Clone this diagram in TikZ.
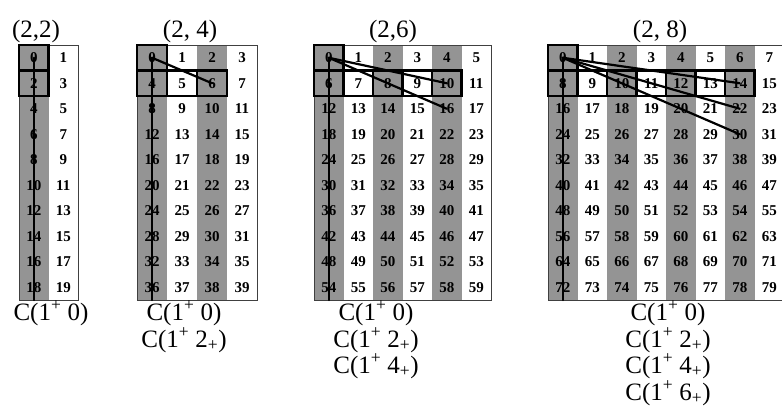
\documentclass[tikz,border=0pt]{standalone}
\usepackage{fontspec}
\setmainfont{Liberation Serif}
\definecolor{shadegray}{gray}{0.58}
\tikzset{
  cell/.style={minimum width=#1, minimum height=25.5pt, inner sep=0pt, outer sep=0pt,
    font=\fontsize{15}{15}\selectfont\bfseries, anchor=center},
  boxline/.style={line width=2.4pt},
  link/.style={line width=2.2pt, line cap=round},
  frame/.style={line width=0.7pt, draw=black!75},
  title/.style={font=\fontsize{25}{25}\selectfont, anchor=base, inner sep=0pt},
  lbl/.style={font=\fontsize{25}{25}\selectfont, anchor=base, inner sep=0pt},
}
\newcommand{\drawgrid}[4]{% id, ncols, x0, colwidth
  \foreach \r in {0,...,9}{
    \foreach \c in {1,...,#2}{
      \pgfmathtruncatemacro\cc{\c-1}
      \pgfmathtruncatemacro\vv{\r*#2+\cc}
      \pgfmathsetmacro\xx{#3+(\cc+0.5)*#4}
      \pgfmathsetmacro\yy{-(45+(\r+0.5)*25.5)}
      \ifodd\cc\def\fc{white}\else\def\fc{shadegray}\fi
      \node[cell=#4pt, fill=\fc] (#1-\r-\cc) at (\xx,\yy) {\vv};
    }
  }
}
\begin{document}
\begin{tikzpicture}[x=1pt,y=1pt]
\useasboundingbox (0,0) rectangle (782,-416);
\drawgrid{a}{2}{19}{29.5}
\drawgrid{b}{4}{137}{30}
\drawgrid{c}{6}{314}{29.5}
\drawgrid{d}{8}{548}{29.5}
% frames
\draw[frame] (a-0-0.north west) rectangle (a-9-1.south east);
\draw[frame] (b-0-0.north west) rectangle (b-9-3.south east);
\draw[frame] (c-0-0.north west) rectangle (c-9-5.south east);
\draw[frame] (d-0-0.north west) rectangle (d-9-7.south east);
% boxes
\foreach \g/\m in {a/0,b/2,c/4,d/6}{
  \draw[boxline] (\g-0-0.north west) rectangle (\g-0-0.south east);
  \foreach \k in {0,...,\m}{
    \draw[boxline] (\g-1-\k.north west) rectangle (\g-1-\k.south east);
  }
}
% links
\draw[link] (a-0-0.center) -- (a-9-0.south);
\draw[link] (b-0-0.center) -- (b-9-0.south);
\draw[link] (b-0-0.center) -- (b-1-2.center);
\draw[link] (c-0-0.center) -- (c-9-0.south);
\draw[link] (c-0-0.center) -- (c-1-4.center);
\draw[link] (c-0-0.center) -- (c-2-4.center);
\draw[link] (d-0-0.center) -- (d-9-0.south);
\draw[link] (d-0-0.center) -- (d-1-6.center);
\draw[link] (d-0-0.center) -- (d-2-6.center);
\draw[link] (d-0-0.center) -- (d-3-6.center);
% titles
\node[title] (ta) at (36,-37) {(2,2)};
\node[title] (tb) at (190,-37) {(2, 4)};
\node[title] (tc) at (393,-37) {(2,6)};
\node[title] (td) at (660,-37) {(2, 8)};
% labels
\node[lbl] (la0) at (51,-320) {C(1\textsuperscript{+} 0)};
\node[lbl] (lb0) at (184,-320) {C(1\textsuperscript{+} 0)};
\node[lbl] (lb2) at (184,-347) {C(1\textsuperscript{+} 2\textsubscript{+})};
\node[lbl] (lc0) at (376,-320) {C(1\textsuperscript{+} 0)};
\node[lbl] (lc2) at (376,-347) {C(1\textsuperscript{+} 2\textsubscript{+})};
\node[lbl] (lc4) at (376,-373) {C(1\textsuperscript{+} 4\textsubscript{+})};
\node[lbl] (ld0) at (668,-320) {C(1\textsuperscript{+} 0)};
\node[lbl] (ld2) at (668,-347) {C(1\textsuperscript{+} 2\textsubscript{+})};
\node[lbl] (ld4) at (668,-373) {C(1\textsuperscript{+} 4\textsubscript{+})};
\node[lbl] (ld6) at (668,-400) {C(1\textsuperscript{+} 6\textsubscript{+})};
\end{tikzpicture}
\end{document}
